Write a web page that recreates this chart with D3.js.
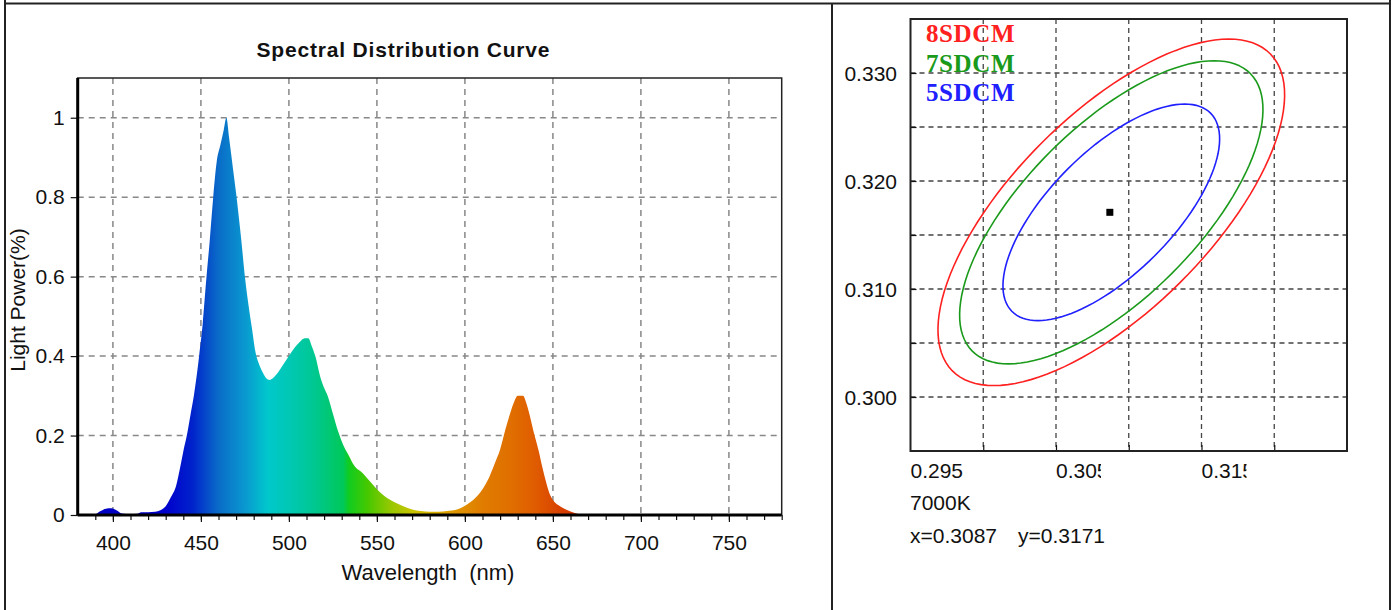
<!DOCTYPE html>
<html>
<head>
  <meta charset="UTF-8" />
  <title>Spectral Distribution Curve + SDCM ellipses</title>
  <script src="https://d3js.org/d3.v7.min.js"></script>
  <style>
    html, body { margin: 0; padding: 0; background: #fff; }
    svg { font-family: "Liberation Sans", Arial, sans-serif; }
    text { fill: #111; }
    .narrow { font-family: "Liberation Sans Narrow", "Arial Narrow", "Liberation Sans", Arial, sans-serif; }
    .grid line { stroke: #888; stroke-width: 1.5; stroke-dasharray: 6 5; }
    .grid2 line { stroke: #444; stroke-width: 1.3; stroke-dasharray: 5 4; }
    .axis path { display: none; }
    .axis line { stroke: #111; stroke-width: 1.2; }
  </style>
</head>
<body>
  <svg id="chart" width="1395" height="610"></svg>
  <script>
    // spectrum (nm, relative power)
    const wavelengths = [380, 385, 390, 393, 396, 399, 402, 405, 410, 414, 416, 420, 424, 427, 430, 433, 436, 438, 440, 442,
      444, 446, 449, 451, 453, 455, 457, 459, 461, 463, 464.5, 466, 468, 470, 473, 475, 477, 479, 481, 483,
      485, 487, 489, 491, 494, 497, 500, 503, 506, 509, 511, 513, 515, 518, 520, 522, 525, 528, 531, 534,
      537, 542, 546, 550, 555, 560, 565, 570, 575, 580, 585, 590, 595, 599, 603, 607, 611, 614, 617, 620,
      623, 626, 628, 630, 633, 635, 637, 639, 642, 644, 646, 648, 650, 653, 656, 660, 664, 667, 700, 780];
    const power = [0, 0, 0.002, 0.010, 0.016, 0.017, 0.012, 0.004, 0.002, 0.003, 0.007, 0.007, 0.008, 0.012, 0.022, 0.045, 0.075, 0.115, 0.16, 0.20,
      0.25, 0.30, 0.40, 0.48, 0.59, 0.69, 0.80, 0.89, 0.93, 0.97, 1.0, 0.95, 0.88, 0.81, 0.69, 0.60, 0.53, 0.47, 0.41, 0.38,
      0.36, 0.345, 0.34, 0.345, 0.36, 0.38, 0.40, 0.42, 0.435, 0.445, 0.445, 0.425, 0.40, 0.345, 0.32, 0.30, 0.255, 0.21, 0.175, 0.15,
      0.125, 0.105, 0.085, 0.065, 0.045, 0.032, 0.022, 0.014, 0.010, 0.008, 0.008, 0.010, 0.013, 0.021, 0.032, 0.048, 0.072, 0.097, 0.13, 0.165,
      0.215, 0.26, 0.285, 0.30, 0.30, 0.28, 0.248, 0.21, 0.16, 0.12, 0.085, 0.055, 0.038, 0.025, 0.017, 0.009, 0.003, 0, 0, 0];

    // fill colour along the wavelength axis
    const gradNm = [380, 430, 445, 460, 475, 488, 500, 512, 524, 531, 534, 545, 558, 570, 582, 596, 610, 625, 640, 655, 670, 780];
    const gradColors = ["#0000c0", "#0000cc", "#0022cc", "#0a6cc8", "#0a98d0", "#00c8cc", "#00c8b4", "#00c898", "#00c870", "#00c858",
      "#10cc20", "#48c800", "#98c800", "#c8c400", "#d8b000", "#e09400", "#e07c00", "#e07000", "#e05c00", "#d84000", "#d03000", "#d03000"];

    const xTicksMajor = [400, 450, 500, 550, 600, 650, 700, 750];
    const yTicks = [0, 0.2, 0.4, 0.6, 0.8, 1];

    // chromaticity panel
    const measured = { x: 0.3087, y: 0.3171 };
    const ellipseCenter = [0.3088, 0.3171];
    const ellipseA = 0.00231;   // semi-major per step
    const ellipseB = 0.00095;   // semi-minor per step
    const ellipseThetaDeg = 57;
    const sdcmSteps = [8, 7, 5];
    const sdcmColors = ["#ff2020", "#1a9a1a", "#2020ff"];
    const sdcmLabels = ["8SDCM", "7SDCM", "5SDCM"];
    const cieGrid = [0.300, 0.305, 0.310, 0.315, 0.320];
    const cieGridY = [0.300, 0.305, 0.310, 0.315, 0.320, 0.325, 0.330];
    const cieXLabels = [0.295, 0.305, 0.315];
    const cieYLabels = [0.300, 0.310, 0.320, 0.330];

    const svg = d3.select("#chart");
    svg.append("rect").attr("width", 1395).attr("height", 610).attr("fill", "#fff");

    // outer panel frame
    const frame = svg.append("g").attr("stroke", "#222").attr("stroke-width", 2);
    frame.append("line").attr("x1", 5).attr("x2", 5).attr("y1", 0).attr("y2", 610);
    frame.append("line").attr("x1", 5).attr("x2", 1390).attr("y1", 3.5).attr("y2", 3.5);
    frame.append("line").attr("x1", 832).attr("x2", 832).attr("y1", 3).attr("y2", 610);
    frame.append("line").attr("x1", 1390).attr("x2", 1390).attr("y1", 0).attr("y2", 610);

    // ---------- left: spectrum ----------
    const x = d3.scaleLinear().domain([380, 780]).range([77.7, 781.7]);
    const y = d3.scaleLinear().domain([0, 1.1]).range([515, 78]);

    const defs = svg.append("defs");
    const grad = defs.append("linearGradient").attr("id", "spec")
      .attr("gradientUnits", "userSpaceOnUse")
      .attr("x1", x(380)).attr("x2", x(780)).attr("y1", 0).attr("y2", 0);
    gradNm.forEach((nm, i) => {
      grad.append("stop").attr("offset", (nm - 380) / 400).attr("stop-color", gradColors[i]);
    });

    const left = svg.append("g");
    left.append("g").attr("class", "grid")
      .selectAll("line.v").data(xTicksMajor).join("line")
      .attr("x1", d => x(d)).attr("x2", d => x(d)).attr("y1", y(1.1)).attr("y2", y(0));
    left.append("g").attr("class", "grid")
      .selectAll("line.h").data(yTicks.slice(1)).join("line")
      .attr("x1", x(380)).attr("x2", x(780)).attr("y1", d => y(d)).attr("y2", d => y(d));

    const spectrum = wavelengths.map((w, i) => [w, power[i]]);
    const area = d3.area()
      .x(d => x(d[0])).y0(y(0)).y1(d => y(d[1]))
      .curve(d3.curveMonotoneX);
    left.append("path").datum(spectrum).attr("d", area).attr("fill", "url(#spec)");

    // minor + major ticks on wavelength axis
    left.append("g").attr("class", "axis").attr("transform", `translate(0,${y(0)})`)
      .call(d3.axisBottom(x).tickValues(d3.range(390, 781, 10)).tickSize(5).tickFormat(""));
    left.append("g").attr("class", "axis narrow").attr("transform", `translate(0,${y(0)})`)
      .call(d3.axisBottom(x).tickValues(xTicksMajor).tickSize(7).tickPadding(13).tickFormat(d3.format("d")))
      .attr("font-size", 21)
      .selectAll("text").attr("fill", "#111");
    left.append("g").attr("class", "axis narrow").attr("transform", `translate(${x(380)},0)`)
      .call(d3.axisLeft(y).tickValues(yTicks).tickSize(7).tickPadding(6).tickFormat(d => String(d)))
      .attr("font-size", 21)
      .selectAll("text").attr("fill", "#111");

    // plot box, heavier left/bottom
    left.append("rect").attr("x", x(380)).attr("y", y(1.1))
      .attr("width", x(780) - x(380)).attr("height", y(0) - y(1.1))
      .attr("fill", "none").attr("stroke", "#222").attr("stroke-width", 1.5);
    left.append("line").attr("x1", x(380)).attr("x2", x(780)).attr("y1", y(0)).attr("y2", y(0))
      .attr("stroke", "#000").attr("stroke-width", 3);
    left.append("line").attr("x1", x(380)).attr("x2", x(380)).attr("y1", y(1.1)).attr("y2", y(0))
      .attr("stroke", "#000").attr("stroke-width", 3);

    left.append("text").attr("x", 403).attr("y", 57).attr("text-anchor", "middle")
      .attr("font-size", 21).attr("font-weight", "bold").attr("textLength", 293)
      .text("Spectral Distribution Curve");
    left.append("text").attr("transform", "translate(25,300) rotate(-90)").attr("text-anchor", "middle")
      .attr("font-size", 21).text("Light Power(%)");
    left.append("text").attr("x", 428).attr("y", 580).attr("text-anchor", "middle")
      .attr("font-size", 22).style("white-space", "pre").text("Wavelength  (nm)");

    // ---------- right: chromaticity with SDCM ellipses ----------
    const cx = d3.scaleLinear().domain([0.295, 0.325]).range([910.5, 1347]);
    const cy = d3.scaleLinear().domain([0.295, 0.335]).range([451, 19]);
    const right = svg.append("g");

    right.append("g").attr("class", "grid2")
      .selectAll("line").data(cieGrid).join("line")
      .attr("x1", d => cx(d)).attr("x2", d => cx(d)).attr("y1", cy(0.335)).attr("y2", cy(0.295));
    right.append("g").attr("class", "grid2")
      .selectAll("line").data(cieGridY).join("line")
      .attr("x1", cx(0.295)).attr("x2", cx(0.325)).attr("y1", d => cy(d)).attr("y2", d => cy(d));

    // inward ticks
    right.append("g").attr("class", "axis").attr("transform", `translate(0,${cy(0.295)})`)
      .call(d3.axisTop(cx).tickValues(cieGrid).tickSize(6).tickFormat(""));
    right.append("g").attr("class", "axis").attr("transform", `translate(${cx(0.295)},0)`)
      .call(d3.axisRight(cy).tickValues(cieGridY).tickSize(6).tickFormat(""));

    const th = ellipseThetaDeg * Math.PI / 180;
    const ellipsePts = s => d3.range(0, 360, 3).map(deg => {
      const t = deg * Math.PI / 180;
      const dx = s * (ellipseA * Math.cos(th) * Math.cos(t) - ellipseB * Math.sin(th) * Math.sin(t));
      const dy = s * (ellipseA * Math.sin(th) * Math.cos(t) + ellipseB * Math.cos(th) * Math.sin(t));
      return [ellipseCenter[0] + dx, ellipseCenter[1] + dy];
    });
    const line = d3.line().x(d => cx(d[0])).y(d => cy(d[1])).curve(d3.curveLinearClosed);
    right.selectAll("path.ell").data(sdcmSteps).join("path")
      .attr("class", "ell")
      .attr("d", s => line(ellipsePts(s)))
      .attr("fill", "none")
      .attr("stroke", (s, i) => sdcmColors[i])
      .attr("stroke-width", 1.6);

    right.append("rect")
      .attr("x", cx(measured.x) - 3.5).attr("y", cy(measured.y) - 3.5)
      .attr("width", 7).attr("height", 7).attr("fill", "#000");

    right.append("rect").attr("x", cx(0.295)).attr("y", cy(0.335))
      .attr("width", cx(0.325) - cx(0.295)).attr("height", cy(0.295) - cy(0.335))
      .attr("fill", "none").attr("stroke", "#222").attr("stroke-width", 2);

    right.selectAll("text.leg").data(sdcmLabels).join("text")
      .attr("class", "leg")
      .attr("x", 926).attr("y", (d, i) => 42 + i * 29.5)
      .style("font-family", "'Liberation Serif', 'Times New Roman', serif")
      .style("font-weight", "bold").style("font-size", "25px").style("letter-spacing", "0.6px")
      .style("fill", (d, i) => sdcmColors[i])
      .text(d => d);

    // labels in the right panel; the software cuts some of them off
    cieXLabels.forEach((v, i) => {
      defs.append("clipPath").attr("id", "xlc" + i)
        .append("rect").attr("x", cx(v) - 2).attr("y", 455).attr("width", i === 0 ? 80 : 47).attr("height", 30);
    });
    const lbl = right.append("g").attr("class", "narrow").attr("font-size", 21);
    lbl.selectAll("text.yl").data(cieYLabels).join("text")
      .attr("class", "yl")
      .attr("x", 897).attr("y", d => cy(d)).attr("dy", "0.36em")
      .attr("text-anchor", "end")
      .text(d => d.toFixed(3));
    lbl.selectAll("text.xl").data(cieXLabels).join("text")
      .attr("class", "xl")
      .attr("clip-path", (d, i) => `url(#xlc${i})`)
      .attr("x", d => cx(d)).attr("y", 478)
      .text(d => d.toFixed(3));
    lbl.append("text").attr("x", 910).attr("y", 510).text("7000K");
    lbl.append("text").attr("x", 910).attr("y", 543).text(`x=${measured.x.toFixed(4)}`);
    lbl.append("text").attr("x", 1018).attr("y", 543).text(`y=${measured.y.toFixed(4)}`);
  </script>
</body>
</html>
